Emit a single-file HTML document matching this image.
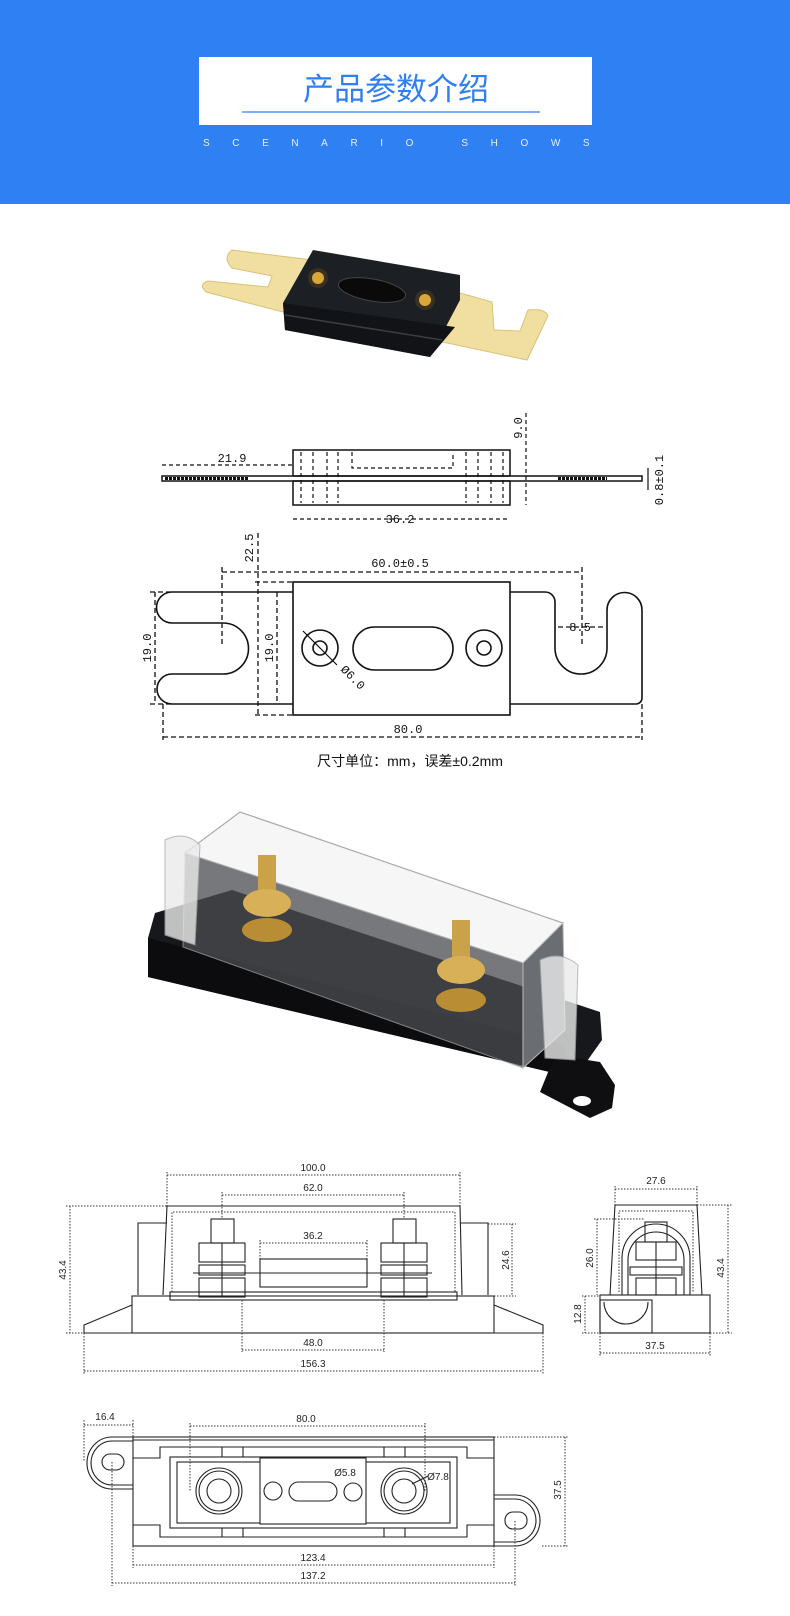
<!DOCTYPE html>
<html><head><meta charset="utf-8"><style>
html,body{margin:0;padding:0;background:#fff;width:790px;height:1616px;overflow:hidden}
svg{display:block}
.t{font-family:"Liberation Mono",monospace;font-size:12px;fill:#111}
.s{font-family:"Liberation Sans",sans-serif;font-size:10px;fill:#222}
</style></head><body>
<svg width="790" height="1616" viewBox="0 0 790 1616" xmlns="http://www.w3.org/2000/svg">
<!-- header -->
<rect x="0" y="0" width="790" height="204" fill="#2f80f2"/>
<rect x="199" y="57" width="393" height="68" fill="#fff"/>
<text x="396" y="100" text-anchor="middle" font-family="'Liberation Sans','Noto Sans CJK SC',sans-serif" font-size="31" fill="#2f7ff0">产品参数介绍</text>
<line x1="242" y1="112" x2="540" y2="112" stroke="#2f7ff0" stroke-width="1.2"/>
<text x="203" y="146" font-family="'Liberation Sans',sans-serif" font-size="10" fill="#e8f0ff" letter-spacing="22.6">SCENARIO SHOWS</text>

<!-- fuse photo -->
<path d="M232,250 L312,260 L312,300 L283,312 L206,292 Q198,284 208,281 L268,287 L272,276 L232,268 Q222,258 232,250Z" fill="#f0dfa0" stroke="#d8c27a"/>
<path d="M433,340 L460,293 L492,302 L494,330 L520,331 L528,310 Q545,308 548,316 L527,360 Z" fill="#f0dfa0" stroke="#d8c27a"/>
<path d="M313,250 L460,275 L460,300 L430,357 L285,330 L283,303 Z" fill="#1c1f24"/>
<path d="M283,303 L455,327 L430,357 L285,330Z" fill="#111316"/>
<line x1="285" y1="315" x2="442" y2="340" stroke="#3a3d42" stroke-width="1.5"/>
<circle cx="318" cy="278" r="10" fill="#3a3020"/><circle cx="318" cy="278" r="6" fill="#d9a63a"/>
<circle cx="425" cy="300" r="10" fill="#3a3020"/><circle cx="425" cy="300" r="6" fill="#d9a63a"/>
<ellipse cx="372" cy="290" rx="34" ry="11" transform="rotate(10 372 290)" fill="#0a0a0a" stroke="#444"/>

<!-- side view drawing -->
<g fill="none" stroke="#111" stroke-width="1.5">
<rect x="293" y="450" width="217" height="55"/>
<rect x="162" y="476" width="480" height="5" fill="#fff"/>
<line x1="293" y1="476" x2="510" y2="476"/><line x1="293" y1="481" x2="510" y2="481"/>
</g>
<g fill="none" stroke="#111" stroke-width="1.2" stroke-dasharray="4,3">
<line x1="301" y1="452" x2="301" y2="503"/><line x1="313" y1="452" x2="313" y2="503"/><line x1="327" y1="452" x2="327" y2="503"/><line x1="338" y1="452" x2="338" y2="503"/>
<line x1="466" y1="452" x2="466" y2="503"/><line x1="478" y1="452" x2="478" y2="503"/><line x1="491" y1="452" x2="491" y2="503"/><line x1="503" y1="452" x2="503" y2="503"/>
<polyline points="352,452 352,468 453,468 453,452"/>
<line x1="162" y1="465" x2="293" y2="465"/>
<line x1="526" y1="413" x2="526" y2="505"/>
<line x1="293" y1="519" x2="510" y2="519"/>
</g>
<line x1="165" y1="478.5" x2="248" y2="478.5" stroke="#111" stroke-width="3" stroke-dasharray="3,1"/>
<line x1="558" y1="478.5" x2="607" y2="478.5" stroke="#111" stroke-width="3" stroke-dasharray="3,1"/>
<line x1="648" y1="468" x2="648" y2="490" stroke="#111" stroke-width="1.2"/>
<text class="t" x="232" y="462" text-anchor="middle">21.9</text>
<text class="t" x="400" y="523" text-anchor="middle">36.2</text>
<text class="t" transform="translate(522,428) rotate(-90)" text-anchor="middle">9.0</text>
<text class="t" transform="translate(663,480) rotate(-90)" text-anchor="middle" font-size="11">0.8±0.1</text>

<!-- top view drawing -->
<g fill="none" stroke="#111" stroke-width="1.6">
<rect x="293" y="582" width="217" height="133"/>
<path d="M293,592 H172 A15.5,15.5 0 0 0 172,623 H223 A25.5,25.5 0 0 1 223,674 H172 A15,15 0 0 0 172,704 H293"/>
<path d="M510,592 H545 A10,10 0 0 1 555,602 V648 A26,26 0 0 0 607,648 V610 A17.5,17.5 0 0 1 642,610 V698 A6,6 0 0 1 636,704 H510"/>
<circle cx="320" cy="648" r="18"/><circle cx="320" cy="648" r="7"/>
<rect x="353" y="627" width="100" height="43" rx="21.5"/>
<circle cx="484" cy="648" r="18"/><circle cx="484" cy="648" r="7"/>
</g>
<g fill="none" stroke="#111" stroke-width="1.3" stroke-dasharray="5,3">
<line x1="222" y1="572" x2="582" y2="572"/>
<line x1="222" y1="567" x2="222" y2="647"/><line x1="582" y1="567" x2="582" y2="647"/>
<line x1="258" y1="533" x2="258" y2="714"/>
<line x1="255" y1="582" x2="293" y2="582"/><line x1="255" y1="715" x2="293" y2="715"/>
<line x1="155" y1="592" x2="155" y2="704"/><line x1="150" y1="592" x2="172" y2="592"/><line x1="150" y1="704" x2="172" y2="704"/>
<line x1="277" y1="592" x2="277" y2="704"/>
<line x1="558" y1="627" x2="605" y2="627"/>
<line x1="163" y1="704" x2="163" y2="740"/><line x1="642" y1="704" x2="642" y2="740"/>
<line x1="163" y1="737" x2="642" y2="737"/>
</g>
<line x1="303" y1="631" x2="337" y2="665" stroke="#111" stroke-width="1.2"/>
<text class="t" x="400" y="567" text-anchor="middle">60.0±0.5</text>
<text class="t" transform="translate(253,548) rotate(-90)" text-anchor="middle">22.5</text>
<text class="t" transform="translate(151,648) rotate(-90)" text-anchor="middle">19.0</text>
<text class="t" transform="translate(273,648) rotate(-90)" text-anchor="middle">19.0</text>
<text class="t" transform="translate(340,670) rotate(45)" font-size="11">Ø6.0</text>
<text class="t" x="580" y="631" text-anchor="middle">8.5</text>
<text class="t" x="408" y="733" text-anchor="middle">80.0</text>
<text x="410" y="766" text-anchor="middle" font-family="'Liberation Sans','Noto Sans CJK SC',sans-serif" font-size="14" fill="#111">尺寸单位：mm，误差±0.2mm</text>

<!-- holder photo -->
<path d="M155,913 L232,890 L600,1012 L602,1040 L575,1078 L148,977 L148,938 Z" fill="#17181b"/>
<path d="M148,938 L562,1045 L575,1078 L148,977Z" fill="#0c0c0e"/>
<path d="M555,1055 L600,1062 L615,1085 L612,1108 L590,1118 L540,1092Z" fill="#0f0f11"/>
<ellipse cx="582" cy="1101" rx="9" ry="5" fill="#fff"/>
<path d="M185,853 L240,812 L563,923 L523,963 Z" fill="#f6f6f6" stroke="#aaa" stroke-width="1.2"/>
<path d="M185,853 L523,963 L523,1068 L183,947 Z" fill="#4a4c50" opacity="0.75" stroke="#aaa"/>
<path d="M523,963 L563,923 L565,1030 L523,1068Z" fill="#6a6d72" stroke="#bbb"/>
<path d="M165,840 Q185,830 200,845 L195,945 L165,935Z" fill="#eaeaea" opacity="0.8" stroke="#aaa"/>
<path d="M540,960 Q560,950 578,965 L575,1060 L545,1058Z" fill="#eaeaea" opacity="0.8" stroke="#aaa"/>
<rect x="258" y="855" width="18" height="40" fill="#c9a24a"/>
<ellipse cx="267" cy="903" rx="24" ry="14" fill="#d7b058"/>
<ellipse cx="267" cy="930" rx="25" ry="12" fill="#b88d34"/>
<rect x="452" y="920" width="18" height="42" fill="#c9a24a"/>
<ellipse cx="461" cy="970" rx="24" ry="14" fill="#d7b058"/>
<ellipse cx="461" cy="1000" rx="25" ry="12" fill="#b88d34"/>

<!-- front drawing -->
<g fill="none" stroke="#222" stroke-width="1.1">
<path d="M167,1206 H460 L462,1295 M167,1206 L163,1295"/>
<path d="M138,1295 V1223 H167 M460,1223 H488 V1295"/>
<rect x="132" y="1296" width="362" height="37"/>
<path d="M132,1305 L84,1325 V1333 H132 M494,1305 L543,1325 V1333 H494"/>
<rect x="170" y="1292" width="287" height="8"/>
<rect x="260" y="1259" width="107" height="28"/>
<line x1="193" y1="1273" x2="432" y2="1273"/>
<rect x="211" y="1219" width="23" height="24"/>
<rect x="199" y="1243" width="46" height="19"/>
<rect x="199" y="1265" width="46" height="10"/>
<rect x="199" y="1278" width="46" height="19"/>
<rect x="393" y="1219" width="23" height="24"/>
<rect x="381" y="1243" width="46" height="19"/>
<rect x="381" y="1265" width="46" height="10"/>
<rect x="381" y="1278" width="46" height="19"/>
<line x1="222" y1="1243" x2="222" y2="1297"/><line x1="404" y1="1243" x2="404" y2="1297"/>
</g>
<g fill="none" stroke="#333" stroke-width="1" stroke-dasharray="1.5,1.5">
<path d="M172,1292 V1212 H455 V1292"/>
<line x1="167" y1="1175" x2="460" y2="1175"/><line x1="167" y1="1172" x2="167" y2="1206"/><line x1="460" y1="1172" x2="460" y2="1206"/>
<line x1="222" y1="1195" x2="404" y2="1195"/><line x1="222" y1="1192" x2="222" y2="1219"/><line x1="404" y1="1192" x2="404" y2="1219"/>
<line x1="260" y1="1243" x2="367" y2="1243"/><line x1="260" y1="1240" x2="260" y2="1259"/><line x1="367" y1="1240" x2="367" y2="1259"/>
<line x1="512" y1="1224" x2="512" y2="1296"/><line x1="488" y1="1224" x2="516" y2="1224"/><line x1="494" y1="1296" x2="516" y2="1296"/>
<line x1="70" y1="1206" x2="70" y2="1333"/><line x1="66" y1="1206" x2="167" y2="1206"/><line x1="66" y1="1333" x2="84" y2="1333"/>
<line x1="242" y1="1300" x2="242" y2="1352"/><line x1="384" y1="1300" x2="384" y2="1352"/><line x1="242" y1="1350" x2="384" y2="1350"/>
<line x1="84" y1="1333" x2="84" y2="1374"/><line x1="543" y1="1333" x2="543" y2="1374"/><line x1="84" y1="1371" x2="543" y2="1371"/>
</g>
<text class="s" x="313" y="1171" text-anchor="middle">100.0</text>
<text class="s" x="313" y="1191" text-anchor="middle">62.0</text>
<text class="s" x="313" y="1239" text-anchor="middle">36.2</text>
<text class="s" x="313" y="1346" text-anchor="middle">48.0</text>
<text class="s" x="313" y="1367" text-anchor="middle">156.3</text>
<text class="s" transform="translate(509,1260) rotate(-90)" text-anchor="middle">24.6</text>
<text class="s" transform="translate(66,1270) rotate(-90)" text-anchor="middle">43.4</text>

<!-- side drawing -->
<g fill="none" stroke="#222" stroke-width="1.1">
<path d="M610,1295 L615,1205 H697 L702,1295"/>
<rect x="600" y="1295" width="110" height="38"/>
<rect x="600" y="1300" width="52" height="33"/>
<path d="M604,1302 A22,22 0 0 0 648,1302"/>
<path d="M622,1295 V1258 A34,34 0 0 1 690,1258 V1295"/>
<path d="M628,1295 V1260 A28,28 0 0 1 684,1260 V1295"/>
<rect x="645" y="1222" width="22" height="20"/>
<rect x="636" y="1242" width="40" height="18"/>
<rect x="630" y="1267" width="52" height="8"/>
<rect x="636" y="1278" width="40" height="17"/>
<line x1="656" y1="1242" x2="656" y2="1295"/>
</g>
<g fill="none" stroke="#333" stroke-width="1" stroke-dasharray="1.5,1.5">
<path d="M619,1292 V1211 H693 V1292"/>
<line x1="615" y1="1189" x2="697" y2="1189"/><line x1="615" y1="1186" x2="615" y2="1205"/><line x1="697" y1="1186" x2="697" y2="1205"/>
<line x1="597" y1="1219" x2="597" y2="1295"/><line x1="594" y1="1219" x2="645" y2="1219"/>
<line x1="728" y1="1205" x2="728" y2="1333"/><line x1="697" y1="1205" x2="732" y2="1205"/><line x1="710" y1="1333" x2="732" y2="1333"/>
<line x1="585" y1="1296" x2="585" y2="1333"/><line x1="582" y1="1296" x2="600" y2="1296"/><line x1="582" y1="1333" x2="600" y2="1333"/>
<line x1="600" y1="1333" x2="600" y2="1356"/><line x1="710" y1="1333" x2="710" y2="1356"/><line x1="600" y1="1353" x2="710" y2="1353"/>
</g>
<text class="s" x="656" y="1184" text-anchor="middle">27.6</text>
<text class="s" x="655" y="1349" text-anchor="middle">37.5</text>
<text class="s" transform="translate(593,1258) rotate(-90)" text-anchor="middle">26.0</text>
<text class="s" transform="translate(724,1268) rotate(-90)" text-anchor="middle">43.4</text>
<text class="s" transform="translate(581,1314) rotate(-90)" text-anchor="middle">12.8</text>

<!-- bottom drawing -->
<g fill="none" stroke="#222" stroke-width="1.1">
<rect x="133" y="1437" width="361" height="109"/>
<line x1="133" y1="1440" x2="494" y2="1440"/>
<path d="M133,1437 H112 A25,26 0 0 0 112,1489 H133"/>
<path d="M133,1441 H112 A21,22 0 0 0 112,1485 H133"/>
<rect x="102" y="1454" width="22" height="16" rx="8"/>
<path d="M494,1495 H515 A25,25.5 0 0 1 515,1546 H494"/>
<path d="M494,1499 H515 A21,21.5 0 0 1 515,1542 H494"/>
<rect x="505" y="1512" width="22" height="17" rx="8"/>
<path d="M133,1458 H160 V1447 H467 V1458 H494 M133,1525 H160 V1537 H467 V1525 H494"/>
<rect x="170" y="1457" width="287" height="71"/>
<rect x="177" y="1462" width="273" height="61"/>
<line x1="222" y1="1447" x2="222" y2="1457"/><line x1="243" y1="1447" x2="243" y2="1457"/><line x1="384" y1="1447" x2="384" y2="1457"/><line x1="405" y1="1447" x2="405" y2="1457"/>
<line x1="222" y1="1528" x2="222" y2="1537"/><line x1="243" y1="1528" x2="243" y2="1537"/><line x1="384" y1="1528" x2="384" y2="1537"/><line x1="405" y1="1528" x2="405" y2="1537"/>
<rect x="260" y="1458" width="106" height="66" fill="#fff"/>
<circle cx="219" cy="1491" r="23"/><circle cx="219" cy="1491" r="20"/><circle cx="219" cy="1491" r="12"/>
<circle cx="404" cy="1491" r="23"/><circle cx="404" cy="1491" r="20"/><circle cx="404" cy="1491" r="12"/>
<circle cx="273" cy="1491" r="9"/>
<rect x="289" y="1482" width="48" height="19" rx="9.5"/>
<circle cx="353" cy="1492" r="9"/>
<line x1="412" y1="1484" x2="428" y2="1476"/>
</g>
<g fill="none" stroke="#333" stroke-width="1" stroke-dasharray="1.5,1.5">
<line x1="84" y1="1425" x2="133" y2="1425"/><line x1="84" y1="1420" x2="84" y2="1462"/><line x1="133" y1="1420" x2="133" y2="1437"/>
<line x1="190" y1="1426" x2="425" y2="1426"/><line x1="190" y1="1423" x2="190" y2="1491"/><line x1="425" y1="1423" x2="425" y2="1491"/>
<line x1="565" y1="1437" x2="565" y2="1546"/><line x1="494" y1="1437" x2="568" y2="1437"/><line x1="542" y1="1546" x2="568" y2="1546"/>
<line x1="133" y1="1546" x2="133" y2="1568"/><line x1="494" y1="1546" x2="494" y2="1568"/><line x1="133" y1="1565" x2="494" y2="1565"/>
<line x1="112" y1="1462" x2="112" y2="1586"/><line x1="515" y1="1521" x2="515" y2="1586"/><line x1="112" y1="1583" x2="515" y2="1583"/>
</g>
<text class="s" x="105" y="1420" text-anchor="middle">16.4</text>
<text class="s" x="306" y="1422" text-anchor="middle">80.0</text>
<text class="s" x="345" y="1476" text-anchor="middle" font-size="8">Ø5.8</text>
<text class="s" x="438" y="1480" text-anchor="middle" font-size="8">Ø7.8</text>
<text class="s" x="313" y="1561" text-anchor="middle">123.4</text>
<text class="s" x="313" y="1579" text-anchor="middle">137.2</text>
<text class="s" transform="translate(561,1490) rotate(-90)" text-anchor="middle">37.5</text>
</svg>
</body></html>
